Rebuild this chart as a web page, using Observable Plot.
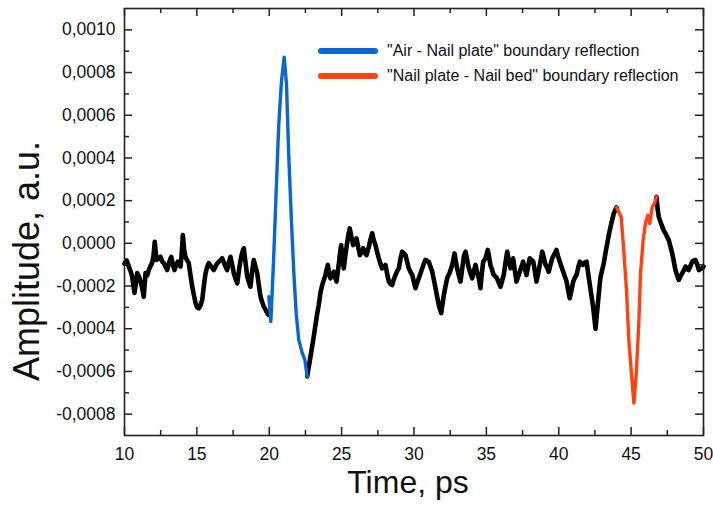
<!DOCTYPE html>
<html><head><meta charset="utf-8">
<script src="https://cdn.jsdelivr.net/npm/d3@7"></script>
<script src="https://cdn.jsdelivr.net/npm/@observablehq/plot@0.6"></script>
<style>
body{margin:0;background:#fff;}
#wrap{position:relative;width:713px;height:511px;font-family:"Liberation Sans",Arial,sans-serif;}
.leg{position:absolute;left:318px;height:20px;font-size:16px;color:#111;display:flex;align-items:center;white-space:nowrap}
.leg .sw{display:inline-block;width:60px;height:6px;border-radius:3px;margin-right:9px}
</style></head><body><div id="wrap"></div>
<script>
// ---- data (time in ps, amplitude in a.u.) ----
const preTime = [10.0,10.15,10.30,10.42,10.53,10.69,10.80,10.88,11.00,11.11,11.22,11.33,11.45,11.57,11.68,11.80,11.91,12.00,12.09,12.21,12.35,12.49,12.60,12.72,12.84,12.95,13.10,13.23,13.34,13.45,13.57,13.68,13.78,13.87,13.95,14.03,14.12,14.21,14.33,14.44,14.56,14.68,14.80,14.91,15.02,15.13,15.25,15.37,15.48,15.60,15.71,15.82,16.00,16.17,16.34,16.51,16.63,16.75,16.92,17.09,17.20,17.32,17.44,17.55,17.67,17.79,17.92,18.06,18.15,18.24,18.36,18.48,18.59,18.70,18.82,18.93,19.05,19.17,19.29,19.40,19.51,19.62,19.74,19.86,19.95];
const preAmp = [-0.95e-4,-0.80e-4,-1.09e-4,-1.30e-4,-1.56e-4,-2.32e-4,-1.80e-4,-1.39e-4,-1.55e-4,-1.79e-4,-2.10e-4,-2.50e-4,-1.39e-4,-1.50e-4,-1.25e-4,-1.05e-4,-0.92e-4,-0.60e-4,0.07e-4,-0.78e-4,-0.70e-4,-0.63e-4,-0.85e-4,-0.93e-4,-1.10e-4,-1.25e-4,-0.85e-4,-0.63e-4,-1.00e-4,-1.25e-4,-1.00e-4,-0.86e-4,-1.00e-4,-1.09e-4,-0.50e-4,0.39e-4,-0.30e-4,-0.63e-4,-0.80e-4,-0.93e-4,-1.50e-4,-2.03e-4,-2.45e-4,-2.80e-4,-3.00e-4,-3.04e-4,-2.90e-4,-2.65e-4,-2.00e-4,-1.40e-4,-1.10e-4,-0.93e-4,-1.10e-4,-1.25e-4,-1.00e-4,-0.86e-4,-0.80e-4,-0.70e-4,-1.00e-4,-1.25e-4,-0.90e-4,-0.63e-4,-1.00e-4,-1.40e-4,-1.65e-4,-1.87e-4,-1.20e-4,-0.63e-4,-0.40e-4,-0.23e-4,-0.90e-4,-1.56e-4,-1.80e-4,-2.03e-4,-1.30e-4,-0.78e-4,-1.10e-4,-1.40e-4,-2.00e-4,-2.50e-4,-2.75e-4,-2.96e-4,-3.10e-4,-3.27e-4,-3.35e-4];

const airTime = [19.97,20.11,20.31,20.48,20.66,20.85,21.03,21.19,21.35,21.54,21.70,21.86,22.04,22.28,22.46,22.62];
const airAmp = [-2.50e-4,-3.66e-4,-0.63e-4,2.49e-4,5.61e-4,7.63e-4,8.72e-4,7.48e-4,4.05e-4,0.93e-4,-1.40e-4,-3.27e-4,-4.52e-4,-5.14e-4,-5.45e-4,-6.23e-4];

const midTime = [22.62,22.85,23.02,23.20,23.31,23.42,23.54,23.66,23.78,23.89,23.97,24.05,24.14,24.23,24.35,24.46,24.55,24.65,24.72,24.80,24.88,24.97,25.06,25.15,25.27,25.39,25.48,25.56,25.68,25.80,25.92,26.03,26.15,26.26,26.38,26.49,26.60,26.72,26.80,26.88,27.00,27.11,27.22,27.34,27.45,27.57,27.68,27.80,27.92,28.03,28.15,28.26,28.37,28.49,28.60,28.72,28.84,28.95,29.06,29.18,29.30,29.41,29.52,29.64,29.76,29.88,29.99,30.10,30.22,30.33,30.45,30.57,30.68,30.79,30.90,31.02,31.14,31.26,31.37,31.49,31.60,31.71,31.80,31.88,31.97,32.06,32.18,32.29,32.37,32.45,32.55,32.64,32.72,32.80,32.89,32.98,33.10,33.21,33.33,33.44,33.50,33.56,33.68,33.79,33.90,34.02,34.13,34.25,34.36,34.48,34.54,34.59,34.68,34.78,34.86,34.94,35.02,35.10,35.19,35.28,35.40,35.51,35.62,35.74,35.86,35.98,36.09,36.20,36.32,36.44,36.55,36.67,36.76,36.85,36.96,37.08,37.20,37.31,37.42,37.54,37.66,37.77,37.88,38.00,38.12,38.24,38.35,38.46,38.58,38.69,38.78,38.86,38.98,39.09,39.20,39.31,39.43,39.55,39.70,39.84,39.95,40.07,40.19,40.31,40.42,40.54,40.65,40.76,40.88,41.00,41.12,41.23,41.34,41.45,41.57,41.69,41.80,41.92,42.03,42.15,42.27,42.38,42.46,42.54,42.62,42.70,42.79,42.88,43.00,43.11,43.23,43.35,43.46,43.58,43.69,43.80,43.90,43.99];
const midAmp = [-6.23e-4,-5.30e-4,-4.60e-4,-3.80e-4,-3.30e-4,-2.88e-4,-2.30e-4,-1.95e-4,-1.70e-4,-1.48e-4,-1.20e-4,-1.01e-4,-1.40e-4,-1.64e-4,-1.45e-4,-1.33e-4,-1.60e-4,-1.79e-4,-1.40e-4,-1.01e-4,-0.50e-4,-0.08e-4,-0.70e-4,-1.17e-4,-0.50e-4,0.07e-4,0.45e-4,0.70e-4,0.30e-4,-0.08e-4,0.10e-4,0.23e-4,-0.20e-4,-0.55e-4,-0.40e-4,-0.23e-4,-0.45e-4,-0.55e-4,-0.35e-4,-0.16e-4,0.20e-4,0.47e-4,0.15e-4,-0.08e-4,-0.40e-4,-0.70e-4,-0.95e-4,-1.17e-4,-1.10e-4,-1.01e-4,-1.45e-4,-1.79e-4,-1.90e-4,-1.95e-4,-1.70e-4,-1.48e-4,-1.30e-4,-1.17e-4,-0.75e-4,-0.39e-4,-0.47e-4,-0.55e-4,-0.85e-4,-1.17e-4,-1.35e-4,-1.48e-4,-1.80e-4,-2.10e-4,-1.85e-4,-1.64e-4,-1.40e-4,-1.17e-4,-0.95e-4,-0.78e-4,-0.82e-4,-0.86e-4,-1.10e-4,-1.33e-4,-1.70e-4,-2.10e-4,-2.50e-4,-2.88e-4,-3.10e-4,-3.27e-4,-2.85e-4,-2.42e-4,-2.00e-4,-1.64e-4,-1.50e-4,-1.40e-4,-1.20e-4,-1.01e-4,-0.75e-4,-0.47e-4,-0.85e-4,-1.17e-4,-1.50e-4,-1.79e-4,-1.20e-4,-0.63e-4,-0.50e-4,-0.39e-4,-0.80e-4,-1.17e-4,-1.40e-4,-1.64e-4,-1.30e-4,-1.01e-4,-1.35e-4,-1.64e-4,-1.90e-4,-2.10e-4,-1.45e-4,-0.86e-4,-0.78e-4,-0.70e-4,-0.50e-4,-0.31e-4,-0.65e-4,-1.01e-4,-1.25e-4,-1.48e-4,-1.55e-4,-1.64e-4,-1.85e-4,-2.03e-4,-1.75e-4,-1.48e-4,-0.90e-4,-0.39e-4,-0.80e-4,-1.17e-4,-0.95e-4,-0.70e-4,-1.25e-4,-1.79e-4,-1.55e-4,-1.33e-4,-1.10e-4,-0.86e-4,-1.20e-4,-1.48e-4,-1.10e-4,-0.70e-4,-0.78e-4,-0.86e-4,-1.30e-4,-1.79e-4,-1.40e-4,-1.01e-4,-0.70e-4,-0.39e-4,-0.70e-4,-1.01e-4,-1.15e-4,-1.33e-4,-1.00e-4,-0.70e-4,-0.50e-4,-0.31e-4,-0.60e-4,-0.86e-4,-1.10e-4,-1.33e-4,-1.55e-4,-1.79e-4,-2.20e-4,-2.57e-4,-2.20e-4,-1.79e-4,-1.60e-4,-1.48e-4,-1.15e-4,-0.86e-4,-0.95e-4,-1.01e-4,-0.90e-4,-0.86e-4,-1.40e-4,-1.95e-4,-2.50e-4,-3.00e-4,-3.50e-4,-4.00e-4,-3.40e-4,-2.85e-4,-2.20e-4,-1.60e-4,-1.25e-4,-0.93e-4,-0.45e-4,0.00e-4,0.40e-4,0.78e-4,1.10e-4,1.40e-4,1.55e-4,1.68e-4];

const bedTime = [43.99,44.31,44.49,44.68,44.84,45.00,45.19,45.37,45.53,45.65,45.83,45.99,46.15,46.29,46.46,46.61,46.75];
const bedAmp = [1.68e-4,1.24e-4,-0.31e-4,-2.18e-4,-4.52e-4,-5.92e-4,-7.48e-4,-5.92e-4,-3.74e-4,-1.40e-4,0.15e-4,0.93e-4,1.32e-4,0.93e-4,1.71e-4,1.87e-4,2.18e-4];

const postTime = [46.75,46.83,46.91,47.03,47.15,47.26,47.37,47.49,47.60,47.72,47.84,47.95,48.06,48.18,48.29,48.41,48.53,48.65,48.76,48.87,48.98,49.10,49.22,49.34,49.45,49.57,49.68,49.80,49.91,50.0];
const postAmp = [2.18e-4,1.60e-4,1.24e-4,1.00e-4,0.78e-4,0.60e-4,0.47e-4,0.30e-4,0.15e-4,-0.15e-4,-0.47e-4,-0.85e-4,-1.25e-4,-1.50e-4,-1.71e-4,-1.55e-4,-1.40e-4,-1.25e-4,-1.09e-4,-1.20e-4,-1.25e-4,-1.05e-4,-0.86e-4,-0.80e-4,-0.78e-4,-1.00e-4,-1.25e-4,-1.20e-4,-1.17e-4,-1.09e-4];

const xTicks = [10,15,20,25,30,35,40,45,50];
const xMinorTicks = [12.5,17.5,22.5,27.5,32.5,37.5,42.5,47.5];
const yTicks = [-0.0008,-0.0006,-0.0004,-0.0002,0,0.0002,0.0004,0.0006,0.0008,0.0010];
const yMinorTicks = [-0.0007,-0.0005,-0.0003,-0.0001,0.0001,0.0003,0.0005,0.0007,0.0009];

const legendItems = ["\"Air - Nail plate\" boundary reflection", "\"Nail plate - Nail bed\" boundary reflection"];
const legendColors = ["#0a66d0", "#ff4210"];
const xTitle = "Time, ps";
const yTitle = "Amplitude, a.u.";

// ---- build ----
const zip = (ts, as, seg) => ts.map((t, i) => ({t, a: as[i], seg}));
const black = [...zip(preTime, preAmp, "pre"), ...zip(midTime, midAmp, "mid"), ...zip(postTime, postAmp, "post")];
const air = zip(airTime, airAmp, "air");
const bed = zip(bedTime, bedAmp, "bed");

const W = 713, H = 511, mL = 124, mR = 10, mT = 8, mB = 76;
const pW = W - mL - mR, pH = H - mT - mB;
const axisColor = "#222";
const fmt = d => d.toFixed(4).replace(".", ",");

const chart = Plot.plot({
  width: W, height: H,
  marginLeft: mL, marginRight: mR, marginTop: mT, marginBottom: mB,
  style: {fontFamily: "'Liberation Sans', Arial, sans-serif", color: "#111", background: "#fff", overflow: "visible"},
  x: {domain: [10, 50]},
  y: {domain: [-0.0009, 0.0011]},
  marks: [
    Plot.line(black, {x: "t", y: "a", z: "seg", stroke: "#000", strokeWidth: 4.6, strokeLinejoin: "round", strokeLinecap: "round"}),
    Plot.line(air, {x: "t", y: "a", stroke: legendColors[0], strokeWidth: 3.4, strokeLinejoin: "round", strokeLinecap: "round"}),
    Plot.line(bed, {x: "t", y: "a", stroke: legendColors[1], strokeWidth: 3.4, strokeLinejoin: "round", strokeLinecap: "round"}),
    Plot.frame({stroke: axisColor, strokeWidth: 1.6}),
    // inward ticks
    Plot.ruleX(xTicks, {x: d => d, insetTop: pH - 8, stroke: axisColor, strokeWidth: 1.5}),
    Plot.ruleX(xTicks, {x: d => d, insetBottom: pH - 8, stroke: axisColor, strokeWidth: 1.5}),
    Plot.ruleX(xMinorTicks, {x: d => d, insetTop: pH - 5, stroke: axisColor, strokeWidth: 1.5}),
    Plot.ruleX(xMinorTicks, {x: d => d, insetBottom: pH - 5, stroke: axisColor, strokeWidth: 1.5}),
    Plot.ruleY(yTicks, {y: d => d, insetRight: pW - 8, stroke: axisColor, strokeWidth: 1.5}),
    Plot.ruleY(yTicks, {y: d => d, insetLeft: pW - 8, stroke: axisColor, strokeWidth: 1.5}),
    Plot.ruleY(yMinorTicks, {y: d => d, insetRight: pW - 5, stroke: axisColor, strokeWidth: 1.5}),
    Plot.ruleY(yMinorTicks, {y: d => d, insetLeft: pW - 5, stroke: axisColor, strokeWidth: 1.5}),
    Plot.axisX(xTicks, {tickSize: 0, tickPadding: 12, fontSize: 17.5, label: null, tickFormat: d => String(d)}),
    Plot.axisY(yTicks, {tickSize: 0, tickPadding: 9, fontSize: 17.5, label: null, tickFormat: fmt}),
    Plot.text([xTitle], {text: d => d, frameAnchor: "bottom", dx: -6, dy: 57, fontSize: 32, fill: "#111"}),
    Plot.text([yTitle], {text: d => d, frameAnchor: "left", textAnchor: "middle", rotate: -90, dx: -97, dy: 39, fontSize: 36, fill: "#111"})
  ]
});

const wrap = document.getElementById("wrap");
wrap.appendChild(chart);
legendItems.forEach((label, i) => {
  const div = document.createElement("div");
  div.className = "leg";
  div.style.top = (41 + i * 25) + "px";
  const sw = document.createElement("span");
  sw.className = "sw";
  sw.style.background = legendColors[i];
  const tx = document.createElement("span");
  tx.textContent = label;
  div.appendChild(sw);
  div.appendChild(tx);
  wrap.appendChild(div);
});
</script>
</body></html>
